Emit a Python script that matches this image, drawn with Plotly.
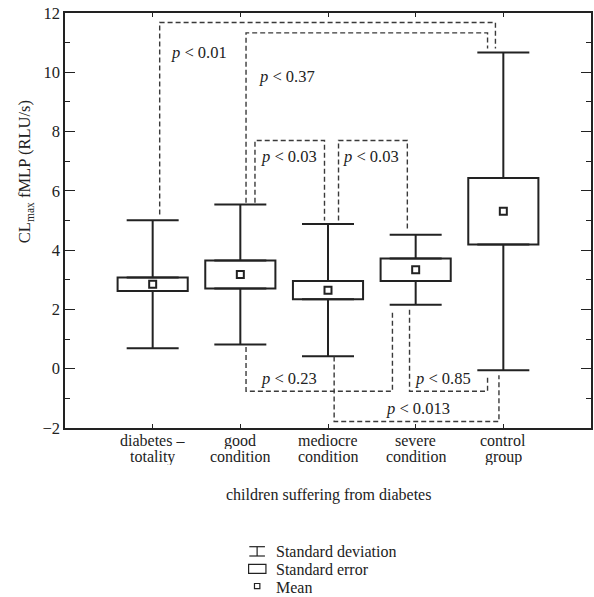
import plotly.graph_objects as go

# ---------------- data ----------------
cat_line1 = ["diabetes –", "good", "mediocre", "severe", "control"]
cat_line2 = ["totality", "condition", "condition", "condition", "group"]
means = [2.85, 3.18, 2.65, 3.34, 5.31]
sd = [2.16, 2.36, 2.23, 1.18, 5.36]
se = [0.23, 0.47, 0.31, 0.38, 1.12]
p_values = ["0.01", "0.37", "0.03", "0.03", "0.23", "0.85", "0.013"]
y_tick_vals = [-2, 0, 2, 4, 6, 8, 10, 12]
legend_labels = ["Standard deviation", "Standard error", "Mean"]
x_title = "children suffering from diabetes"
y_title = "CL<sub>max</sub> fMLP (RLU/s)"

# bracket geometry (category units / data units)
bracket_xl = [0.08, 1.065, 1.167, 2.12, 1.065, 2.93, 2.07]
bracket_xr = [3.91, 3.82, 1.96, 2.905, 2.735, 3.82, 3.95]
bracket_yl = [5.2, 5.6, 5.6, 5.0, 0.73, 1.99, 0.41]
bracket_yr = [10.8, 10.8, 5.0, 4.67, 1.99, -0.26, -0.22]
bracket_level = [11.68, 11.33, 7.70, 7.70, -0.76, -0.76, -1.78]
label_x = [0.534, 1.528, 1.557, 2.49, 1.551, 3.307, 3.023]
label_y = [10.68, 9.86, 7.17, 7.17, -0.33, -0.33, -1.33]

INK = "#222222"
DASH = "#3a3a3a"
FONT = "Liberation Serif"

W, H = 594, 597
L, R, T, B = 65, 1, 13, 169
PW, PH = W - L - R, H - T - B


def px_x(p):
    return (p - L) / PW


def px_y(p):
    return (H - B - p) / PH


xs = list(range(len(means)))

fig = go.Figure()

# SE boxes
fig.add_trace(go.Bar(
    x=xs, y=[2 * s for s in se], base=[m - s for m, s in zip(means, se)],
    width=0.8, marker=dict(color="white", line=dict(color=INK, width=2)),
    showlegend=False, hoverinfo="skip"))

# SD whiskers (upper and lower parts)
fig.add_trace(go.Scatter(
    x=xs, y=[m + s for m, s in zip(means, se)], mode="markers",
    marker=dict(size=1, color="rgba(0,0,0,0)"),
    error_y=dict(type="data", symmetric=False,
                 array=[d - s for d, s in zip(sd, se)], arrayminus=[0] * len(sd),
                 width=26, thickness=2, color=INK),
    showlegend=False, hoverinfo="skip"))
fig.add_trace(go.Scatter(
    x=xs, y=[m - s for m, s in zip(means, se)], mode="markers",
    marker=dict(size=1, color="rgba(0,0,0,0)"),
    error_y=dict(type="data", symmetric=False,
                 array=[0] * len(sd), arrayminus=[d - s for d, s in zip(sd, se)],
                 width=26, thickness=2, color=INK),
    showlegend=False, hoverinfo="skip"))

# means
fig.add_trace(go.Scatter(
    x=xs, y=means, mode="markers",
    marker=dict(symbol="square", size=7, color="white", line=dict(color=INK, width=2)),
    showlegend=False, hoverinfo="skip"))

# significance brackets
for i, p in enumerate(p_values):
    fig.add_trace(go.Scatter(
        x=[bracket_xl[i], bracket_xl[i], bracket_xr[i], bracket_xr[i]],
        y=[bracket_yl[i], bracket_level[i], bracket_level[i], bracket_yr[i]],
        mode="lines", line=dict(color=DASH, width=1.4, dash="5px,3px"),
        showlegend=False, hoverinfo="skip"))
    fig.add_annotation(x=label_x[i], y=label_y[i], xref="x", yref="y",
                       text="<i>p</i> &lt; " + p, showarrow=False,
                       font=dict(family=FONT, size=16.5, color=INK),
                       xanchor="center", yanchor="middle")

# category labels (two lines, tight spacing)
for i in xs:
    fig.add_annotation(x=i, y=px_y(440.7), xref="x", yref="paper", text=cat_line1[i],
                       showarrow=False, font=dict(family=FONT, size=16, color=INK),
                       xanchor="center", yanchor="middle", height=17)
    fig.add_annotation(x=i, y=px_y(456), xref="x", yref="paper", text=cat_line2[i],
                       showarrow=False, font=dict(family=FONT, size=16, color=INK),
                       xanchor="center", yanchor="middle", height=17)

# axis titles
fig.add_annotation(x=0.5, y=px_y(495), xref="paper", yref="paper", text=x_title,
                   showarrow=False, font=dict(family=FONT, size=16, color=INK),
                   xanchor="center", yanchor="middle")
fig.add_annotation(x=px_x(25), y=px_y(172), xref="paper", yref="paper", text=y_title,
                   textangle=-90, showarrow=False,
                   font=dict(family=FONT, size=16.5, color=INK),
                   xanchor="center", yanchor="middle")

# legend (drawn manually)
lw = 1.2
fig.add_shape(type="line", xref="paper", yref="paper", x0=px_x(250), x1=px_x(265.7),
              y0=px_y(546.7), y1=px_y(546.7), line=dict(color=INK, width=lw))
fig.add_shape(type="line", xref="paper", yref="paper", x0=px_x(250), x1=px_x(265.7),
              y0=px_y(556), y1=px_y(556), line=dict(color=INK, width=lw))
fig.add_shape(type="line", xref="paper", yref="paper", x0=px_x(257.85), x1=px_x(257.85),
              y0=px_y(546.7), y1=px_y(556), line=dict(color=INK, width=lw))
fig.add_shape(type="rect", xref="paper", yref="paper", x0=px_x(249.3), x1=px_x(266.7),
              y0=px_y(564.3), y1=px_y(573.3), line=dict(color=INK, width=lw))
fig.add_shape(type="rect", xref="paper", yref="paper", x0=px_x(255.2), x1=px_x(260.6),
              y0=px_y(583.5), y1=px_y(588.7), line=dict(color=INK, width=lw))
for lab, yc in zip(legend_labels, [551, 569.3, 587.3]):
    fig.add_annotation(x=px_x(275), y=px_y(yc), xref="paper", yref="paper", text=lab,
                       showarrow=False, font=dict(family=FONT, size=16, color=INK),
                       xanchor="left", yanchor="middle", height=17)

fig.update_layout(
    width=W, height=H, margin=dict(l=L, r=R, t=T, b=B),
    paper_bgcolor="white", plot_bgcolor="white",
    font=dict(family=FONT, size=16, color=INK),
    barmode="overlay", showlegend=False,
)
fig.update_xaxes(range=[-1, 5], tickvals=xs, showticklabels=False,
                 ticks="inside", ticklen=4, tickwidth=1.3, tickcolor=INK,
                 showline=True, linewidth=1.5, linecolor=INK, mirror="ticks",
                 showgrid=False, zeroline=False)
fig.update_yaxes(range=[-2, 12], tickvals=y_tick_vals,
                 ticks="inside", ticklen=10, tickwidth=1.3, tickcolor=INK,
                 minor=dict(ticks="inside", ticklen=5, dtick=1, tick0=-1,
                            tickwidth=1.3, tickcolor=INK, showgrid=False),
                 showline=True, linewidth=1.5, linecolor=INK, mirror="ticks",
                 showgrid=False, zeroline=False,
                 tickfont=dict(family=FONT, size=16.5, color=INK))

fig.write_html("out.html", config={"displayModeBar": False},
               post_script="document.body.style.margin='0';document.body.style.overflow='hidden';")
